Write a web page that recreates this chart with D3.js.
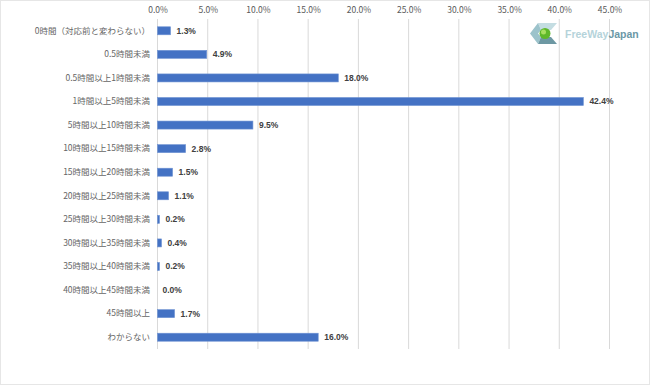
<!DOCTYPE html>
<html><head><meta charset="utf-8">
<script src="https://cdn.jsdelivr.net/npm/d3@7"></script>
<style>body{margin:0;background:#fff}svg{display:block}</style>
</head><body>
<svg id="c" width="650" height="385"></svg>
<script>
const categories = ["0時間（対応前と変わらない）","0.5時間未満","0.5時間以上1時間未満","1時間以上5時間未満","5時間以上10時間未満","10時間以上15時間未満","15時間以上20時間未満","20時間以上25時間未満","25時間以上30時間未満","30時間以上35時間未満","35時間以上40時間未満","40時間以上45時間未満","45時間以上","わからない"];
const values = [1.3,4.9,18.0,42.4,9.5,2.8,1.5,1.1,0.2,0.4,0.2,0.0,1.7,16.0];
const ticks = [0,5,10,15,20,25,30,35,40,45];

const svg = d3.select("#c");
const font = "'Noto Sans CJK JP', 'Liberation Sans', sans-serif";
svg.append("rect").attr("x",0.5).attr("y",0.5).attr("width",649).attr("height",384).attr("fill","#fff").attr("stroke","#e6e6e6");

const x = d3.scaleLinear().domain([0,45]).range([157.5,609.5]);
const y = d3.scaleBand().domain(categories).range([19,349]).paddingInner(0.66).paddingOuter(0.33);

// gridlines
svg.append("g").selectAll("line").data(ticks).join("line")
  .attr("x1",d=>x(d)).attr("x2",d=>x(d)).attr("y1",19).attr("y2",349)
  .attr("stroke","#d9d9d9").attr("stroke-width",1);

// top axis
const ax = svg.append("g").attr("transform","translate(0,16)")
  .call(d3.axisTop(x).tickValues(ticks).tickFormat(d=>d.toFixed(1)+"%").tickSize(0).tickPadding(3));
ax.select(".domain").remove();
ax.selectAll("text").attr("font-family",font).attr("font-size",8.5).attr("fill","#595959");

// category labels
const ay = svg.append("g").attr("transform","translate(150,0)")
  .call(d3.axisLeft(y).tickSize(0).tickPadding(0));
ay.select(".domain").remove();
ay.selectAll("text").attr("font-family",font).attr("font-size",8.5).attr("fill","#666666");

// bars
svg.append("g").selectAll("rect").data(values).join("rect")
  .attr("x",x(0)).attr("y",(d,i)=>y(categories[i]))
  .attr("width",d=>x(d)-x(0)).attr("height",y.bandwidth())
  .attr("fill","#4472C4").attr("stroke","#6f93d3").attr("stroke-width",d=>d>0?0.6:0);

// value labels
svg.append("g").selectAll("text").data(values).join("text")
  .attr("x",d=>x(d)+(d>0?6:5)).attr("y",(d,i)=>y(categories[i])+y.bandwidth()/2)
  .attr("dy","0.35em").attr("font-family","'Liberation Sans', Arial, sans-serif")
  .attr("font-size",8.5).attr("font-weight","bold").attr("fill","#404040")
  .text(d=>d.toFixed(1)+"%");

// logo
const lg = svg.append("g").attr("transform","translate(530,22)");
lg.append("polygon").attr("points","8,1 27,1 21,8 11,8").attr("fill","#c4dde2");
lg.append("polygon").attr("points","0,11.5 8,1 11,8 8,11.5 11,15 8,22").attr("fill","#9cc3cb");
lg.append("polygon").attr("points","11,15 21,15 27,22 8,22").attr("fill","#6d98a3");
lg.append("circle").attr("cx",15).attr("cy",11.5).attr("r",5.5).attr("fill","#5fb82a");
lg.append("circle").attr("cx",13.5).attr("cy",10).attr("r",2.5).attr("fill","#a8e060");
const t = lg.append("text").attr("x",35).attr("y",15.5).attr("font-family","'Liberation Sans', Arial, sans-serif").attr("font-size",10.5).attr("font-weight","bold");
t.append("tspan").attr("fill","#b5d3da").text("FreeWay");
t.append("tspan").attr("fill","#6b98a6").text("Japan");
</script>
</body></html>
